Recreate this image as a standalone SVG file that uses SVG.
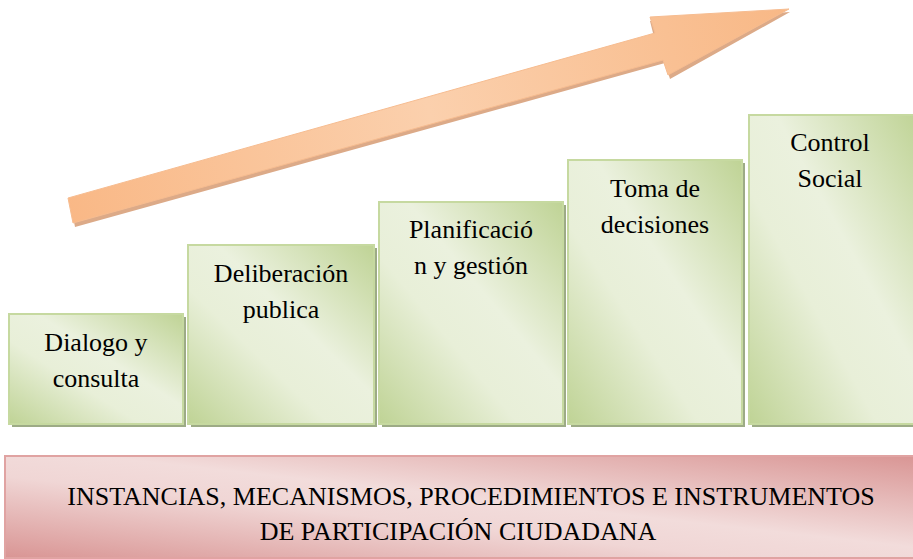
<svg xmlns="http://www.w3.org/2000/svg" width="913" height="559" viewBox="0 0 913 559">
<defs>
<linearGradient id="gGreen" x1="1" y1="0" x2="0" y2="1">
<stop offset="0" stop-color="#bfd395"/>
<stop offset="0.42" stop-color="#ebf1de"/>
<stop offset="0.62" stop-color="#e8efd8"/>
<stop offset="1" stop-color="#bfd395"/>
</linearGradient>
<linearGradient id="gPink" x1="1" y1="0" x2="0" y2="1">
<stop offset="0" stop-color="#d99594"/>
<stop offset="0.45" stop-color="#f2dcdb"/>
<stop offset="0.6" stop-color="#f0d6d5"/>
<stop offset="1" stop-color="#d99594"/>
</linearGradient>
<linearGradient id="gArrow" x1="68" y1="210" x2="790" y2="10" gradientUnits="userSpaceOnUse">
<stop offset="0" stop-color="#f9b886"/>
<stop offset="0.5" stop-color="#fbd0ad"/>
<stop offset="1" stop-color="#f8b886"/>
</linearGradient>
</defs>
<style>
.box{fill:url(#gGreen);stroke:#c6d9a0;stroke-width:2}
.shadow{fill:#9dab86}
.t{font-family:"Times New Roman","Liberation Serif",Tinos,"DejaVu Serif",serif;font-size:26px;fill:#000;text-anchor:middle}
</style>
<rect width="913" height="559" fill="#ffffff"/>
<g id="arrow">
<path d="M70,201 L654,37 L650,21 L790,12 L670,79 L665,63 L75,227 Z" fill="#dcaa88"/>
<path d="M68,198 L655,33 L650,17 L789,9 L668,75 L663,60 L73,223 Z" fill="url(#gArrow)" stroke="#f6bc90" stroke-width="1"/>
</g>
<g id="box1">
<rect class="shadow" x="12" y="317" width="174" height="110"/>
<rect class="box" x="9" y="314" width="174" height="110"/>
<text class="t" x="96" y="351">Dialogo y</text>
<text class="t" x="96" y="387">consulta</text>
</g>
<g id="box2">
<rect class="shadow" x="191" y="248" width="186" height="179"/>
<rect class="box" x="188" y="245" width="186" height="179"/>
<text class="t" x="281" y="282">Deliberación</text>
<text class="t" x="281" y="318">publica</text>
</g>
<g id="box3">
<rect class="shadow" x="382" y="205" width="184" height="222"/>
<rect class="box" x="379" y="202" width="184" height="222"/>
<text class="t" x="471" y="238">Planificació</text>
<text class="t" x="471" y="274">n y gestión</text>
</g>
<g id="box4">
<rect class="shadow" x="571" y="163" width="174" height="264"/>
<rect class="box" x="568" y="160" width="174" height="264"/>
<text class="t" x="655" y="197">Toma de</text>
<text class="t" x="655" y="233">decisiones</text>
</g>
<g id="box5">
<rect class="shadow" x="752" y="118" width="170" height="309"/>
<rect class="box" x="749" y="115" width="170" height="309"/>
<text class="t" x="830" y="151">Control</text>
<text class="t" x="830" y="187">Social</text>
</g>
<g id="base">
<rect x="5" y="456" width="915" height="102" fill="url(#gPink)" stroke="#e0a3a2" stroke-width="2"/>
<text class="t" x="471" y="505">INSTANCIAS, MECANISMOS, PROCEDIMIENTOS E INSTRUMENTOS</text>
<text class="t" x="458" y="540">DE PARTICIPACIÓN CIUDADANA</text>
</g>
<g id="connectors"></g>
</svg>
